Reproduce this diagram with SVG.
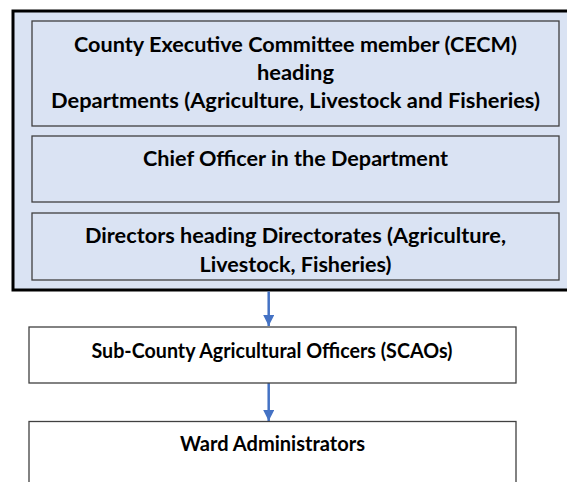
<svg xmlns="http://www.w3.org/2000/svg" width="567" height="482" viewBox="0 0 567 482">
<defs>
<style>
.t{font-family:Lato,"Liberation Sans",sans-serif;font-weight:bold;font-size:21.5px;fill:#000;text-anchor:middle}
.in{fill:#dae3f3;stroke:#404040;stroke-width:1.3}
.wb{fill:#fff;stroke:#404040;stroke-width:1.3}
.c{stroke:#4472c4;stroke-width:2.5;fill:none}
</style>
<marker id="ah" markerWidth="11" markerHeight="11" refX="10" refY="5" orient="auto" markerUnits="userSpaceOnUse" viewBox="0 0 10 10">
<path d="M0,0 L10,5 L0,10 Z" fill="#4472c4"/>
</marker>
</defs>
<rect width="567" height="482" fill="#fff"/>
<g id="county">
<rect x="13" y="11" width="560" height="279" fill="#dae3f3" stroke="#000" stroke-width="3"/>
<g id="cecm">
<rect class="in" x="32" y="21" width="527" height="105"/>
<text class="t" x="295.5" y="52" textLength="443" lengthAdjust="spacingAndGlyphs">County Executive Committee member (CECM)</text>
<text class="t" x="295.5" y="80" textLength="77" lengthAdjust="spacingAndGlyphs">heading</text>
<text class="t" x="295.5" y="108" textLength="489" lengthAdjust="spacingAndGlyphs">Departments (Agriculture, Livestock and Fisheries)</text>
</g>
<g id="chief">
<rect class="in" x="32" y="136" width="527" height="66"/>
<text class="t" x="295.5" y="166" textLength="305" lengthAdjust="spacingAndGlyphs">Chief Officer in the Department</text>
</g>
<g id="directors">
<rect class="in" x="32" y="213" width="527" height="67"/>
<text class="t" x="295.5" y="243" textLength="421" lengthAdjust="spacingAndGlyphs">Directors heading Directorates (Agriculture,</text>
<text class="t" x="295.5" y="272" textLength="192" lengthAdjust="spacingAndGlyphs">Livestock, Fisheries)</text>
</g>
</g>
<g id="connectors">
<line class="c" x1="268.7" y1="291.5" x2="268.7" y2="326" marker-end="url(#ah)"/>
<line class="c" x1="268.7" y1="383" x2="268.7" y2="421" marker-end="url(#ah)"/>
</g>
<g id="scao">
<rect class="wb" x="29" y="327" width="487" height="56"/>
<text class="t" x="272" y="358" textLength="361" lengthAdjust="spacingAndGlyphs">Sub-County Agricultural Officers (SCAOs)</text>
</g>
<g id="ward">
<rect class="wb" x="29" y="421.5" width="487" height="80"/>
<text class="t" x="272.5" y="451" textLength="185" lengthAdjust="spacingAndGlyphs">Ward Administrators</text>
</g>
</svg>
